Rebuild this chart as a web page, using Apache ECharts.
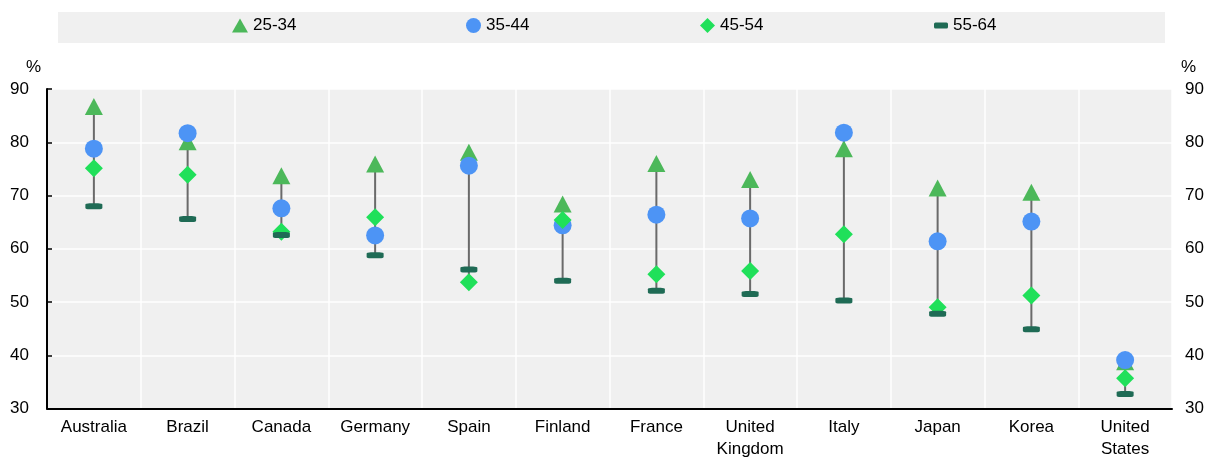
<!DOCTYPE html>
<html>
<head>
<meta charset="utf-8">
<script src="https://cdn.jsdelivr.net/npm/echarts@6/dist/echarts.min.js"></script>
<style>
  html, body { margin: 0; padding: 0; background: #ffffff; }
  #chart { width: 1210px; height: 457px; }
</style>
</head>
<body>
<div id="chart"></div>
<script>
// Employment rate by age group, per country (%)
const countries = ['Australia', 'Brazil', 'Canada', 'Germany', 'Spain', 'Finland', 'France',
  'United Kingdom', 'Italy', 'Japan', 'Korea', 'United States'];
const age25to34 = [86.7, 80.1, 73.7, 75.9, 78.1, 68.4, 76.0, 73.0, 78.8, 71.4, 70.6, 38.8];
const age35to44 = [78.8, 81.7, 67.6, 62.5, 75.6, 64.4, 66.4, 65.7, 81.8, 61.4, 65.1, 39.1];
const age45to54 = [75.1, 73.9, 63.2, 65.9, 53.7, 65.4, 55.2, 55.8, 62.7, 49.0, 51.2, 35.7];
const age55to64 = [68.0, 65.6, 62.6, 58.8, 56.1, 54.0, 52.1, 51.5, 50.3, 47.8, 44.9, 32.7];
const seriesNames = ['25-34', '35-44', '45-54', '55-64'];
const yTicks = [30, 40, 50, 60, 70, 80, 90];

const FONT = '"Liberation Sans Narrow", "Arial Narrow", "Liberation Sans", Arial, sans-serif';
const FS = 17;
const TXT = '#000000';

// Range line spanning lowest to highest age group value in each country
const rangeData = countries.map((c, i) => {
  const v = [age25to34[i], age35to44[i], age45to54[i], age55to64[i]];
  return [i, Math.min(...v), Math.max(...v)];
});

const chart = echarts.init(document.getElementById('chart'), null, { renderer: 'canvas' });

const legendBase = {
  top: 17,
  padding: 0,
  itemGap: 0,
  textStyle: { fontFamily: FONT, fontSize: FS, color: TXT },
  selectedMode: false
};

chart.setOption({
  animation: false,
  backgroundColor: '#ffffff',
  graphic: [
    { type: 'rect', left: 58, top: 12, z: -10, shape: { width: 1107, height: 31 }, style: { fill: '#f0f0f0' } },
    { type: 'text', left: 26, top: 59, style: { text: '%', font: FS + 'px ' + FONT, fill: TXT } },
    { type: 'text', left: 1181, top: 59, style: { text: '%', font: FS + 'px ' + FONT, fill: TXT } }
  ],
  legend: [
    Object.assign({}, legendBase, { left: 232, data: [{ name: seriesNames[0], icon: 'triangle' }], itemWidth: 16, itemHeight: 14 }),
    Object.assign({}, legendBase, { left: 466, data: [{ name: seriesNames[1], icon: 'circle' }], itemWidth: 15, itemHeight: 15 }),
    Object.assign({}, legendBase, { left: 700, data: [{ name: seriesNames[2], icon: 'diamond' }], itemWidth: 15, itemHeight: 15 }),
    Object.assign({}, legendBase, { left: 934, data: [{ name: seriesNames[3], icon: 'roundRect' }], itemWidth: 14, itemHeight: 6 })
  ],
  grid: {
    left: 47, right: 38, top: 89, bottom: 48.5,
    outerBoundsMode: 'none',
    containLabel: false,
    show: true, backgroundColor: '#f0f0f0', borderWidth: 0
  },
  xAxis: {
    type: 'category',
    data: countries,
    boundaryGap: true,
    axisLine: { lineStyle: { color: '#000000', width: 2 } },
    axisTick: { inside: true, length: 5, lineStyle: { color: '#000000', width: 1.5 } },
    splitLine: { show: true, lineStyle: { color: '#ffffff', width: 1.5 } },
    axisLabel: {
      interval: 0, margin: 8,
      fontFamily: FONT, fontSize: FS, color: TXT, lineHeight: 22,
      formatter: (v) => v.replace(' ', '\n')
    }
  },
  yAxis: [
    {
      type: 'value', min: yTicks[0], max: yTicks[yTicks.length - 1], interval: 10,
      position: 'left',
      axisLine: { show: true, lineStyle: { color: '#000000', width: 2 } },
      axisTick: { show: true, inside: true, length: 5, lineStyle: { color: '#000000', width: 1.5 } },
      splitLine: { show: true, lineStyle: { color: '#ffffff', width: 1.5 } },
      axisLabel: { margin: 18, fontFamily: FONT, fontSize: FS, color: TXT }
    },
    {
      type: 'value', min: yTicks[0], max: yTicks[yTicks.length - 1], interval: 10,
      position: 'right',
      axisLine: { show: false },
      axisTick: { show: false },
      splitLine: { show: false },
      axisLabel: { margin: 13, fontFamily: FONT, fontSize: FS, color: TXT, align: 'left' }
    }
  ],
  series: [
    {
      type: 'custom',
      name: 'range',
      data: rangeData,
      z: 1,
      silent: true,
      renderItem: (params, api) => {
        const lo = api.coord([api.value(0), api.value(1)]);
        const hi = api.coord([api.value(0), api.value(2)]);
        return {
          type: 'line',
          shape: { x1: lo[0], y1: lo[1], x2: hi[0], y2: hi[1] },
          style: { stroke: '#6a6a6a', lineWidth: 2 }
        };
      },
      encode: { x: 0, y: [1, 2] }
    },
    {
      name: seriesNames[0], type: 'scatter', data: age25to34, z: 2,
      symbol: 'triangle', symbolSize: [18, 17],
      itemStyle: { color: '#4cb85a', opacity: 1 }
    },
    {
      name: seriesNames[1], type: 'scatter', data: age35to44, z: 2,
      symbol: 'circle', symbolSize: 18,
      itemStyle: { color: '#4d94f5', opacity: 1 }
    },
    {
      name: seriesNames[2], type: 'scatter', data: age45to54, z: 2,
      symbol: 'diamond', symbolSize: [18, 18],
      itemStyle: { color: '#20e05a', opacity: 1 }
    },
    {
      name: seriesNames[3], type: 'scatter', data: age55to64, z: 2,
      symbol: 'roundRect', symbolSize: [17, 6],
      itemStyle: { color: '#1f6b55', opacity: 1 }
    }
  ]
});
</script>
</body>
</html>
